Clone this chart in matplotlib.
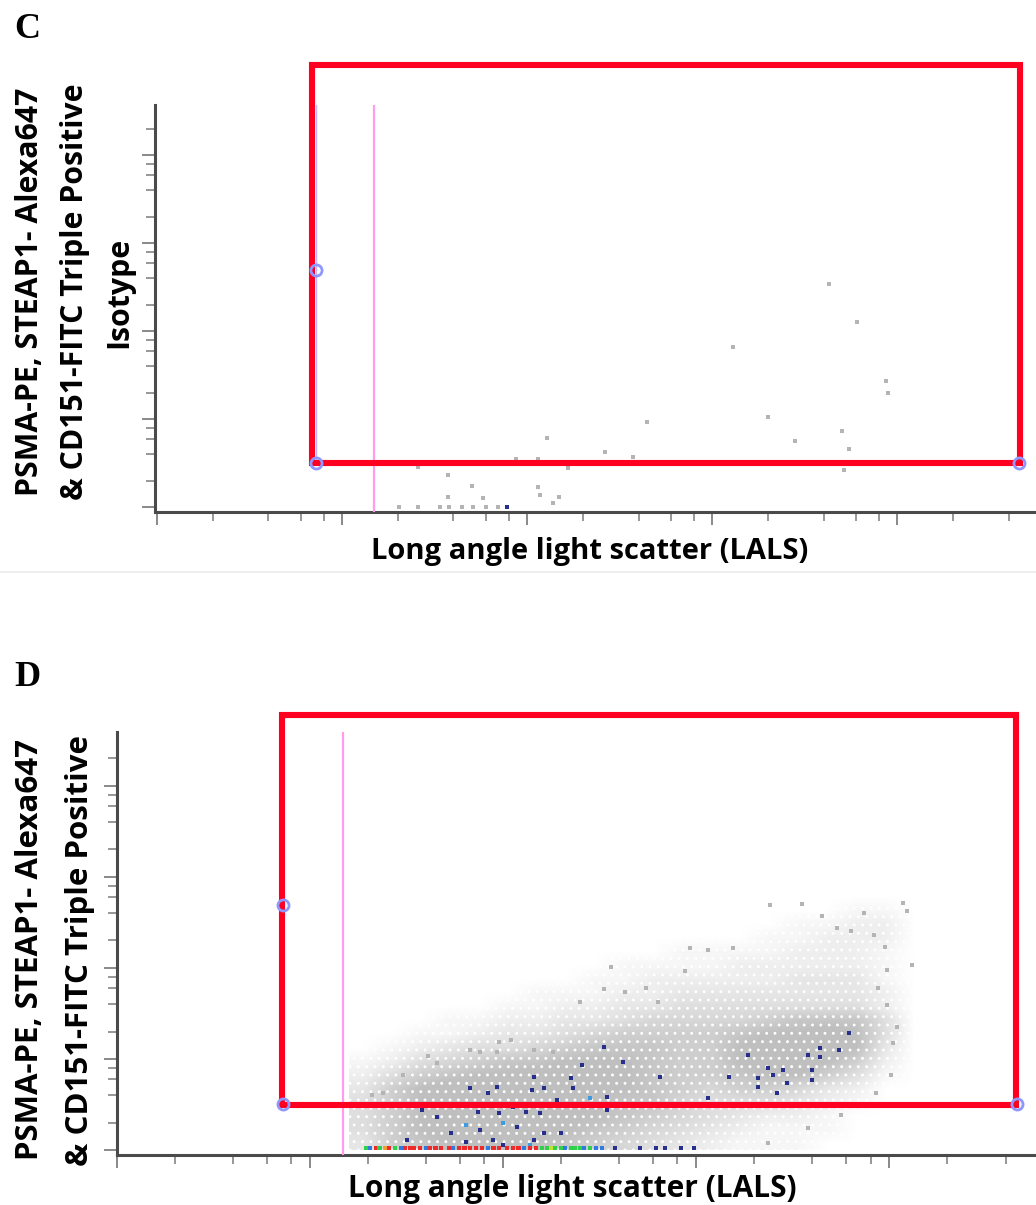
import numpy as np
import matplotlib.pyplot as plt
from matplotlib.colors import LinearSegmentedColormap
from matplotlib.patches import Rectangle
from matplotlib.lines import Line2D

W, H = 1036, 1205

# every position below is in log10 decades of the cytometer scale

# panel C - isotype, only a few events
c_x = [3.63, 3.78, 3.11, 3.94, 3.95, 2.65, 3.30, 3.70, 3.45, 3.74, 3.71, 2.11, 2.42,
       2.57, 1.94, 2.06, 2.22, 1.41, 1.57, 1.57, 1.70, 1.76, 2.06, 2.07, 2.17, 2.14,
       1.31, 1.41, 1.53, 1.58, 1.65, 1.71, 1.78, 1.84]
c_y = [2.53, 2.10, 1.82, 1.43, 1.30, 0.97, 1.02, 0.86, 0.75, 0.66, 0.42, 0.78, 0.63,
       0.57, 0.55, 0.55, 0.44, 0.45, 0.36, 0.11, 0.24, 0.10, 0.23, 0.14, 0.11, 0.05,
       0.0, 0.0, 0.0, 0.0, 0.0, 0.0, 0.0, 0.0]
c_blue = [(1.89, 0.0)]

# gate drawn by the software (same in both panels)
gate_left, gate_right, gate_bottom = 0.86, 4.66, 0.50
gate_handle_y = 2.69
marker_x = 1.17

# red boxes added on top of the plots: left, right, bottom, top
c_box = (0.838, 4.665, 0.50, 5.02)
d_box = (0.855, 4.658, 0.495, 4.78)

# panel D - event density (0-9) on a 0.15 decade grid, x 1.2-4.2, y 0-3.0, top row first
d_grid = [
    '00000000000000000000',
    '00000000000000000000',
    '00000000000000000110',
    '00000000000000011220',
    '00000000000000112220',
    '00000000000111122210',
    '00000000011112222210',
    '00000000112222233310',
    '00000011122333333320',
    '00000112233444444420',
    '00011223345555677740',
    '00112334566667889840',
    '01234456777668999830',
    '12456778887668998620',
    '24678899887667886410',
    '36899999887656653200',
    '46899999877544432100',
    '46899998876543221000',
    '46899988765432111000',
    '36789987654321110000',
]
grid_x = (1.2, 4.2)
grid_y = (0.0, 3.0)

# scattered single events outside the dense cloud
d_out_x = [3.55, 4.07, 4.09, 3.65, 3.87, 4.12, 2.97, 3.06, 3.19, 2.94, 2.74, 2.80, 4.01,
           3.93, 3.75, 3.58, 3.37, 3.73, 3.80, 3.92, 3.98, 3.99, 3.99, 4.04, 4.02, 3.94,
           2.56, 2.52, 2.63, 2.40, 1.61, 1.48, 1.32, 1.38, 1.66, 1.97, 2.04, 1.98, 1.83,
           1.88, 2.16, 2.26, 3.38]
d_out_y = [2.70, 2.71, 2.62, 2.57, 2.60, 2.03, 2.22, 2.20, 2.22, 1.97, 1.78, 1.63, 0.82,
           0.63, 0.38, 0.24, 0.08, 2.44, 2.40, 2.36, 2.23, 1.98, 1.59, 1.35, 1.18, 1.78,
           2.01, 1.77, 1.73, 1.62, 1.03, 0.82, 0.60, 0.63, 0.96, 1.08, 1.21, 1.19, 1.10,
           1.08, 1.10, 1.08, 2.69]

# dark blue events
d_blue_x = [1.83, 1.97, 2.16, 2.35, 2.36, 2.52, 2.62, 2.41, 2.54, 1.66, 1.88, 1.95, 2.00,
            1.98, 2.12, 2.19, 2.28, 1.58, 1.50, 1.73, 1.81, 2.07, 2.21, 2.54, 1.92, 2.30,
            2.05, 1.87, 2.16, 2.81, 3.06, 3.17, 3.27, 3.32, 3.37, 3.40, 3.42, 3.47, 3.45,
            3.58, 3.60, 3.64, 3.74, 3.79, 3.60, 3.32, 3.64, 2.15, 2.21]
d_blue_y = [0.68, 0.69, 0.80, 0.79, 0.68, 1.13, 0.97, 0.93, 0.58, 0.36, 0.22, 0.11, 0.05,
            0.41, 0.42, 0.41, 0.55, 0.44, 0.11, 0.19, 0.09, 0.25, 0.19, 0.44, 0.63, 0.19,
            0.47, 0.42, 0.11, 0.80, 0.57, 0.80, 1.04, 0.79, 0.90, 0.82, 0.63, 0.74, 0.88,
            1.04, 0.88, 1.12, 1.10, 1.29, 0.77, 0.69, 1.02, 0.66, 0.68]
d_light_x = [1.81, 2.00, 2.14, 2.45]
d_light_y = [0.27, 0.30, 0.05, 0.57]

# events piled on the bottom edge, coloured by density
strip_x = [1.29, 1.31, 1.34, 1.36, 1.39, 1.41, 1.44, 1.47, 1.49, 1.52, 1.54, 1.57, 1.60,
           1.62, 1.65, 1.68, 1.72, 1.74, 1.77, 1.80, 1.83, 1.86, 1.89, 1.92, 1.95, 1.98,
           2.02, 2.05, 2.08, 2.11, 2.14, 2.17, 2.20, 2.23, 2.25, 2.27, 2.30, 2.32, 2.35,
           2.37, 2.40, 2.42, 2.45, 2.48, 2.51, 2.58, 2.71, 2.79, 2.84, 2.92, 2.99]
strip_c = 'gbrgorgbrrrrbrrrrbrrrrrbrrrrrbrrggyggbgggbgbbnnnnnn'
strip_colors = {'g': '#2fd04a', 'b': '#2f7be0', 'r': '#ee2a2a', 'o': '#f0a030',
                'y': '#c8e030', 'n': '#27308f'}

GRAY = '#b4b4b4'
plt.rcParams['hatch.linewidth'] = 0.9


def setup_axes(rect, xlim, ylim):
    l, r, t, b = rect
    ax = fig.add_axes([l / W, 1 - b / H, (r - l) / W, (b - t) / H])
    ax.set_xlim(*xlim)
    ax.set_ylim(*ylim)
    for s in ['top', 'right']:
        ax.spines[s].set_visible(False)
    for s in ['left', 'bottom']:
        ax.spines[s].set_color('#4a4a4a')
        ax.spines[s].set_linewidth(2.2)
    subs = np.log10([2, 4, 6, 8])
    xmin = [d + s for d in range(0, 5) for s in subs if d + s < xlim[1]]
    ymin = [d + s for d in range(0, 5) for s in subs if d + s < ylim[1] + 0.01]
    ax.set_xticks(range(0, 5))
    ax.set_yticks(range(0, 5))
    ax.set_xticks(xmin, minor=True)
    ax.set_yticks(ymin, minor=True)
    ax.set_xticklabels([])
    ax.set_yticklabels([])
    ax.tick_params(which='major', direction='out', length=9.5, width=1.1, color='#6a6a6a')
    ax.tick_params(which='minor', direction='out', length=6.5, width=1.1, color='#7a7a7a')
    return ax


def draw_gates(ax, box, ylim):
    ax.axvline(marker_x, color='#ff9cf0', lw=1.6, zorder=3)
    ax.plot([gate_left, gate_left, gate_right, gate_right],
            [ylim[1], gate_bottom, gate_bottom, ylim[1]],
            color='#8a8aff', lw=1.0, alpha=0.6, zorder=4, clip_on=False)
    ax.plot([gate_left, gate_left, gate_right], [gate_handle_y, gate_bottom, gate_bottom],
            ls='none', marker='o', ms=8, mfc='none', mec='#8f97ff', mew=2.0,
            zorder=12, clip_on=False)
    l, r, b, t = box
    ax.add_patch(Rectangle((l, b), r - l, t - b, fill=False, ec='#ff0020', lw=4.4,
                           zorder=10, clip_on=False))


fig = plt.figure(figsize=(W / 100, H / 100), dpi=100)
fig.patch.set_facecolor('white')

# ---- panel C
ylim_c = (-0.057, 4.57)
axc = setup_axes((155, 1036, 105, 512), (-0.011, 4.75), ylim_c)
axc.scatter(c_x, c_y, s=7, marker='s', c=GRAY, lw=0, zorder=2, clip_on=False)
axc.scatter([p[0] for p in c_blue], [p[1] for p in c_blue], s=8, marker='s',
            c='#27308f', lw=0, zorder=2, clip_on=False)
draw_gates(axc, c_box, ylim_c)

# ---- panel D
ylim_d = (-0.055, 4.59)
axd = setup_axes((117, 1036, 732, 1155), (0.0, 4.76), ylim_d)
dens = np.array([[int(ch) for ch in row] for row in d_grid], dtype=float)
cloud = LinearSegmentedColormap.from_list(
    'cloud', [(0.75, 0.75, 0.75, 0.0), (0.75, 0.75, 0.75, 1.0)])
axd.imshow(dens, extent=[grid_x[0], grid_x[1], grid_y[0], grid_y[1]], origin='upper',
           cmap=cloud, vmin=0, vmax=8, interpolation='bilinear', aspect='auto', zorder=1)
# white speckle texture over the cloud
axd.add_patch(Rectangle((grid_x[0], grid_y[0]), grid_x[1] - grid_x[0], grid_y[1] - grid_y[0],
                        fill=False, hatch='..', ec='white', lw=0, zorder=1.5))
axd.scatter(d_out_x, d_out_y, s=7, marker='s', c=GRAY, lw=0, zorder=2)
axd.scatter(d_blue_x, d_blue_y, s=7, marker='s', c='#26308c', lw=0, zorder=2)
axd.scatter(d_light_x, d_light_y, s=7, marker='s', c='#3d9be0', lw=0, zorder=2)
axd.scatter(strip_x, [0.02] * len(strip_x), s=9, marker='s',
            c=[strip_colors[k] for k in strip_c], lw=0, zorder=2, clip_on=False)
draw_gates(axd, d_box, ylim_d)

# ---- text
lab = dict(family='Open Sans', weight='bold', color='black')
fig.text(590 / W, 1 - 552 / H, 'Long angle light scatter (LALS)', ha='center', va='center',
         fontsize=21, **lab)
fig.text(572 / W, 1 - 1189 / H, 'Long angle light scatter (LALS)', ha='center', va='center',
         fontsize=21.5, **lab)

ylab_c = ['PSMA-PE, STEAP1- Alexa647', '& CD151-FITC Triple Positive', 'Isotype']
for xp, txt in zip([30, 75, 119], ylab_c):
    fig.text(xp / W, 1 - 292 / H, txt, rotation=90, ha='center', va='center',
             fontsize=21.8, **lab)
ylab_d = ['PSMA-PE, STEAP1- Alexa647', '& CD151-FITC Triple Positive']
for xp, txt in zip([30, 80], ylab_d):
    fig.text(xp / W, 1 - 950 / H, txt, rotation=90, ha='center', va='center',
             fontsize=22.5, **lab)

fig.text(14 / W, 1 - 30 / H, 'C', family='Liberation Serif', weight='bold', fontsize=26,
         ha='left', va='center')
fig.text(14 / W, 1 - 677 / H, 'D', family='Liberation Serif', weight='bold', fontsize=26,
         ha='left', va='center')

fig.add_artist(Line2D([0, 1], [1 - 572 / H] * 2, color='#ebebeb', lw=1.2))

fig.savefig('out.png', dpi=100, facecolor='white')
